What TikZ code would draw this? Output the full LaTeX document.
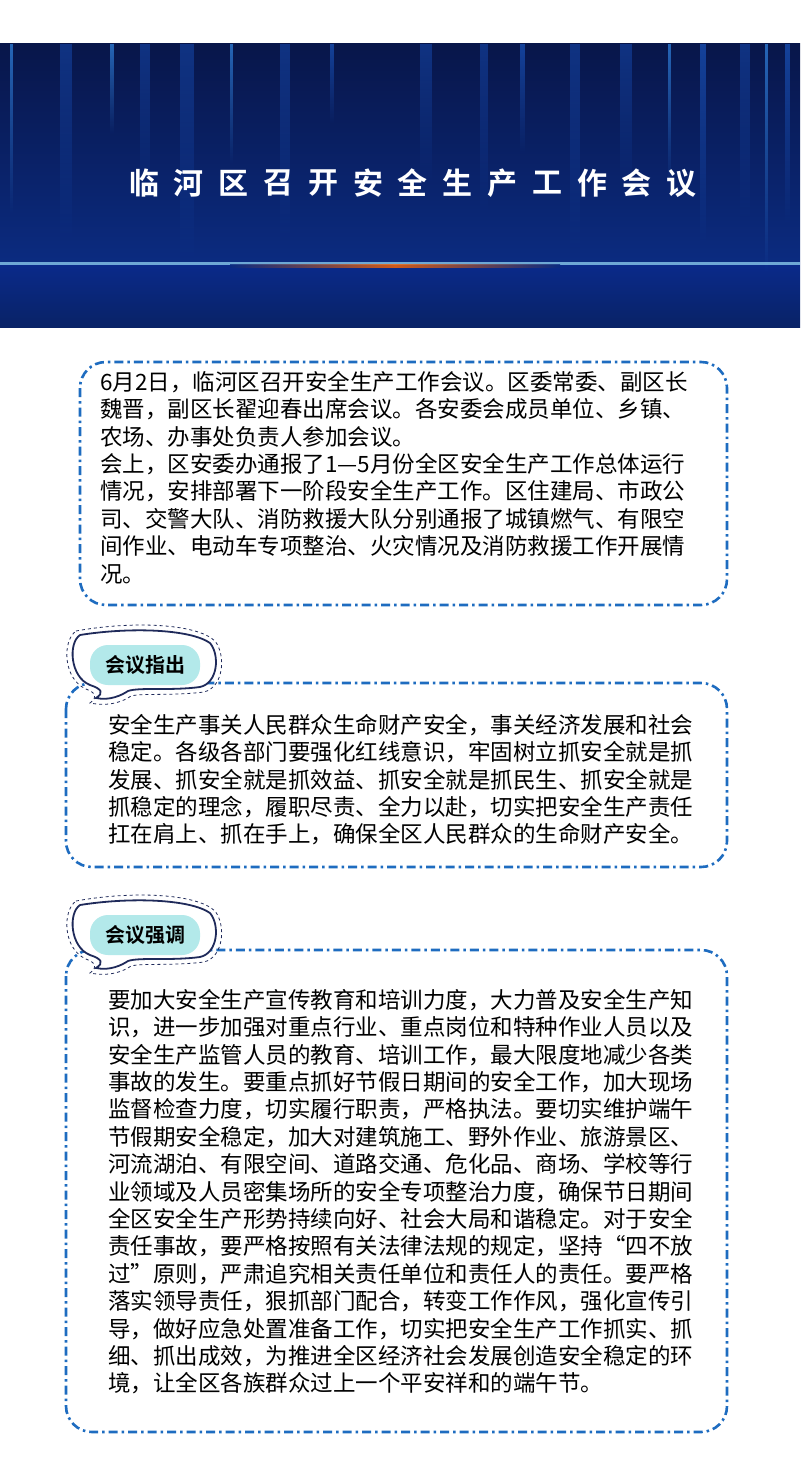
\documentclass[tikz,border=0pt]{standalone}
\usepackage{fontspec}
\newfontfamily\cjk{Noto Sans CJK SC}
\newfontfamily\cjkb{Noto Sans CJK SC Bold}
\usetikzlibrary{fadings}
\definecolor{dashblue}{HTML}{1E6CC0}
\definecolor{navy}{HTML}{1F2A5A}
\definecolor{cyanfill}{HTML}{B3E9EA}
\definecolor{hdtop}{HTML}{08164A}
\definecolor{hdmid}{HTML}{0B2B80}
\definecolor{hdlow}{HTML}{0A2A8A}
\definecolor{stA}{HTML}{1D5FD0}
\definecolor{stB}{HTML}{3A9BFF}
\definecolor{stC}{HTML}{1546A8}
\tikzset{
  dashbox/.style={draw=dashblue,line width=2.6pt,dash pattern=on 9pt off 4pt on 2.5pt off 4pt,rounded corners=26pt},
  bodytext/.style={anchor=north west,inner sep=0pt,align=left,font=\cjk\fontsize{22.5}{27.4}\selectfont,text=black},
  badgetext/.style={font=\cjkb\fontsize{20}{22}\selectfont,text=black,inner sep=0pt},
  streak/.style={fill=#1,path fading=south}
}
\begin{document}
\begin{tikzpicture}[x=1pt,y=-1pt]
\useasboundingbox (0,0) rectangle (800,1458);
\fill[white] (0,0) rectangle (800,1458);
% header
\shade[top color=hdtop,bottom color=hdmid] (0,44) rectangle (800,263);
\shade[top color=hdlow,bottom color=hdmid!80!black] (0,264) rectangle (800,327);
\foreach \x/\w/\l/\c in {10/3/170/stB,60/12/200/stC,110/4/90/stB,140/10/160/stC,180/14/220/stC,230/3/120/stB,280/10/200/stC,330/4/80/stA,420/12/140/stC,480/8/170/stC,520/5/110/stA,570/10/210/stC,620/12/150/stC,668/3/140/stB,700/6/200/stA,740/10/180/stC,765/3/230/stB,785/5/180/stA}{
  \fill[streak=\c,opacity=0.6] (\x,44) rectangle ++(\w,\l);
}
\fill[cyan!40!white,opacity=0.7] (0,262) rectangle (800,264.5);
\shade[left color=hdmid,right color=hdmid,middle color=orange!80!red,opacity=0.8] (230,264.5) rectangle (560,267);
\foreach \ch [count=\i from 0] in {临,河,区,召,开,安,全,生,产,工,作,会,议}{
  \node[font=\cjkb\fontsize{30}{31}\selectfont,text=white,inner sep=0pt] (t\i) at (144+\i*44.8,183) {\ch};
}
% box 1
\draw[dashbox] (80,362) rectangle (727,605);
\node[bodytext] (p1) at (100,371) {6月2日，临河区召开安全生产工作会议。区委常委、副区长\\魏晋，副区长翟迎春出席会议。各安委会成员单位、乡镇、\\农场、办事处负责人参加会议。\\会上，区安委办通报了1—5月份全区安全生产工作总体运行\\情况，安排部署下一阶段安全生产工作。区住建局、市政公\\司、交警大队、消防救援大队分别通报了城镇燃气、有限空\\间作业、电动车专项整治、火灾情况及消防救援工作开展情\\况。};
% box 2
\draw[dashbox] (66,683) rectangle (727,867);
\node[bodytext] (p2) at (108,714) {安全生产事关人民群众生命财产安全，事关经济发展和社会\\稳定。各级各部门要强化红线意识，牢固树立抓安全就是抓\\发展、抓安全就是抓效益、抓安全就是抓民生、抓安全就是\\抓稳定的理念，履职尽责、全力以赴，切实把安全生产责任\\扛在肩上、抓在手上，确保全区人民群众的生命财产安全。};
% box 3
\draw[dashbox] (66,950) rectangle (727,1432);
\node[bodytext] (p3) at (108,989) {要加大安全生产宣传教育和培训力度，大力普及安全生产知\\识，进一步加强对重点行业、重点岗位和特种作业人员以及\\安全生产监管人员的教育、培训工作，最大限度地减少各类\\事故的发生。要重点抓好节假日期间的安全工作，加大现场\\监督检查力度，切实履行职责，严格执法。要切实维护端午\\节假期安全稳定，加大对建筑施工、野外作业、旅游景区、\\河流湖泊、有限空间、道路交通、危化品、商场、学校等行\\业领域及人员密集场所的安全专项整治力度，确保节日期间\\全区安全生产形势持续向好、社会大局和谐稳定。对于安全\\责任事故，要严格按照有关法律法规的规定，坚持“四不放\\过”原则，严肃追究相关责任单位和责任人的责任。要严格\\落实领导责任，狠抓部门配合，转变工作作风，强化宣传引\\导，做好应急处置准备工作，切实把安全生产工作抓实、抓\\细、抓出成效，为推进全区经济社会发展创造安全稳定的环\\境，让全区各族群众过上一个平安祥和的端午节。};
% badges
\foreach \by/\name/\txt in {665/b1/会议指出,935/b2/会议强调}{
  \begin{scope}[shift={(0,\by)}]
    \fill[white] (80,-30) .. controls (130,-38) and (190,-36) .. (210,-22) .. controls (220,-10) and (218,18) .. (200,22) .. controls (170,26) and (140,22) .. (128,26) .. controls (122,30) and (110,36) .. (96,33) .. controls (104,28) and (102,24) .. (90,20) .. controls (70,12) and (68,-22) .. (80,-30) -- cycle;
    \draw[navy,line width=1.8pt] (80,-30) .. controls (130,-38) and (190,-36) .. (210,-22) .. controls (220,-10) and (218,18) .. (200,22) .. controls (170,26) and (140,22) .. (128,26) .. controls (122,30) and (110,36) .. (96,33) .. controls (104,28) and (102,24) .. (90,20) .. controls (70,12) and (68,-22) .. (80,-30);
    \draw[navy,line width=0.8pt,dashed] (76,-34) .. controls (130,-44) and (196,-42) .. (215,-24) .. controls (226,-10) and (224,22) .. (204,27) .. controls (172,31) and (142,28) .. (131,31) .. controls (124,36) and (110,42) .. (90,38) .. controls (98,32) and (96,28) .. (86,24) .. controls (63,14) and (62,-24) .. (76,-34);
    \fill[cyanfill,rounded corners=18pt] (90,-20) rectangle (200,20);
    \node[badgetext] (\name) at (145,0) {\txt};
  \end{scope}
}
\end{tikzpicture}
\end{document}
